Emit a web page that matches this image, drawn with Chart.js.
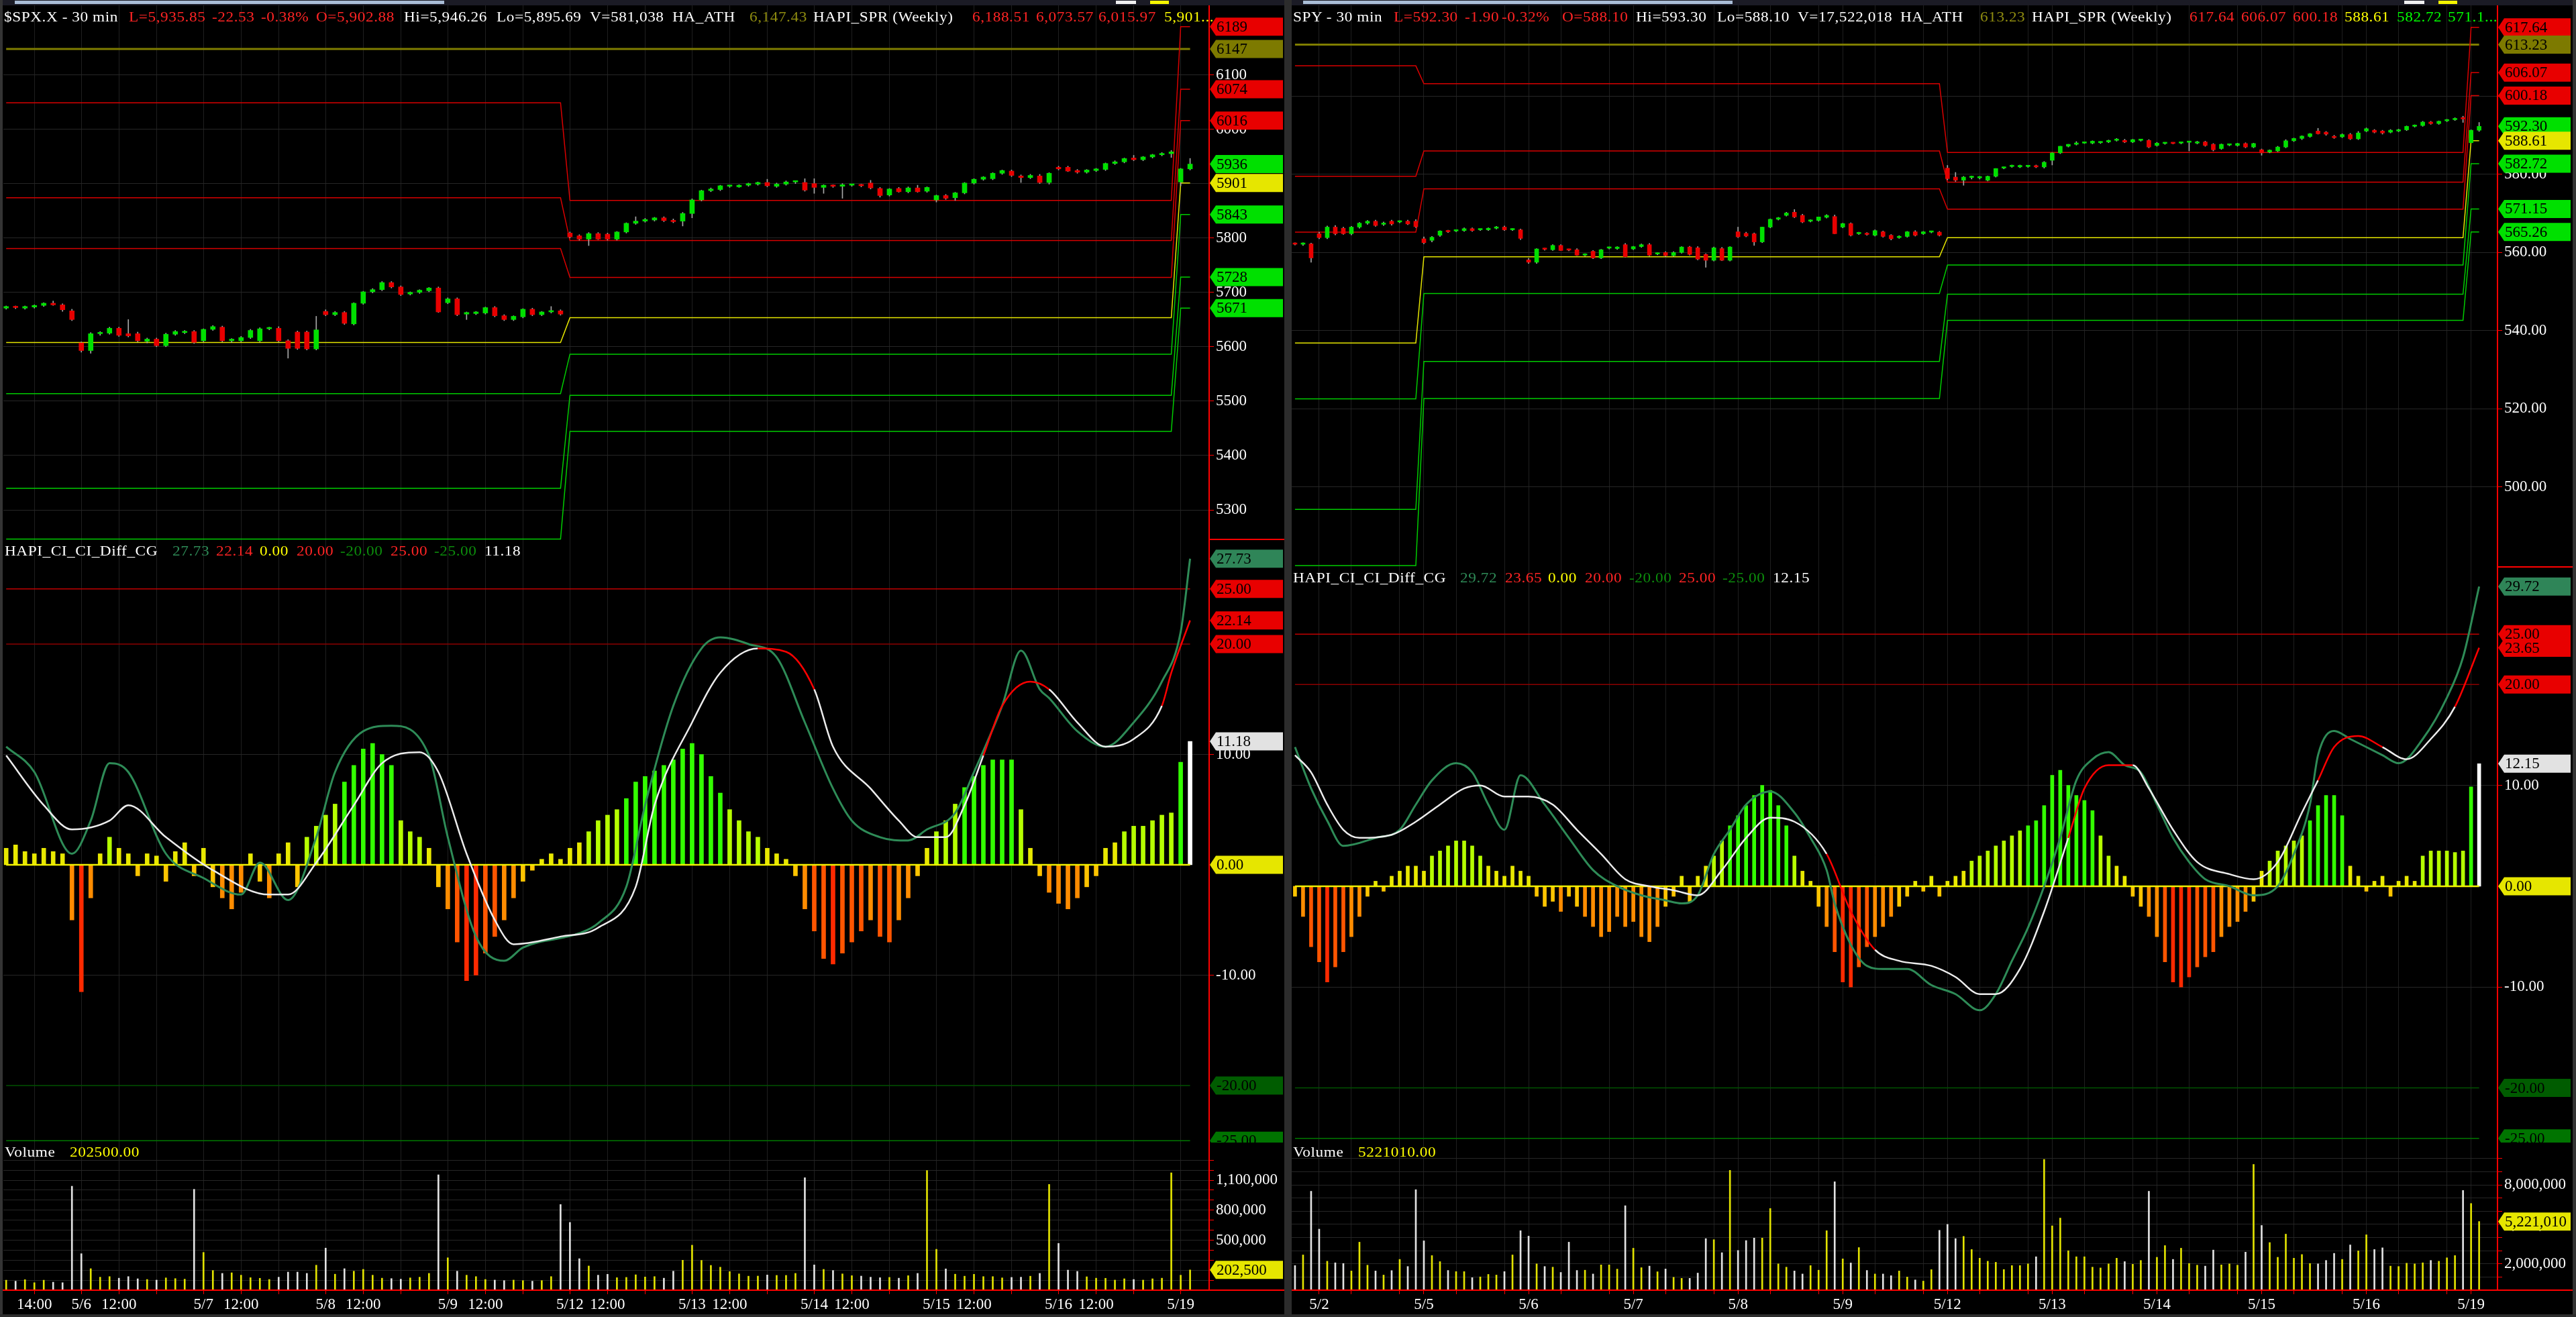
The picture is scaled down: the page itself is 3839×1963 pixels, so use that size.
<!DOCTYPE html>
<html>
<head>
<meta charset="utf-8">
<title>$SPX.X / SPY - 30 min</title>
<script src="https://cdn.jsdelivr.net/npm/chart.js@4.4.1/dist/chart.umd.min.js"></script>
<style>
  html, body { margin: 0; padding: 0; background: #000; }
  body { position: relative; width: 3839px; height: 1963px; overflow: hidden; font-family: 'Liberation Serif', 'Times New Roman', serif; }
  canvas { position: absolute; }
  .lbl { position: absolute; font-size: 22px; line-height: 22px; white-space: nowrap; letter-spacing: 0.5px; z-index: 5;
         transform: scaleX(1.06); transform-origin: 0 50%; }
  .blk { position: absolute; z-index: 4; }
</style>
</head>
<body>
<script>
// ---- $SPX.X 30 min (5/5 12:30 -> 5/19) ----
const spxOpen = [5671,5673,5671,5673,5676,5680,5677,5666,
  5607,5593,5624,5625,5634,5624,5624,5610,5614,5602,5623,5626,5628,
  5611,5632,5636,5611,5611,5617,5611,5633,5634,5611,5627,5627,5596,
  5665,5659,5663,5642,5680,5701,5705,5718,5710,5697,5700,5703,5708,
  5681,5688,5660,5661,5662,5672,5657,5650,5655,5669,5659,5664,5666,
  5809,5804,5798,5808,5807,5798,5811,5827,5831,5833,5837,5832,5831,
  5845,5870,5887,5889,5895,5894,5897,5899,5902,5895,5899,5903,5902,
  5900,5893,5896,5895,5897,5897,5901,5891,5879,5891,5885,5892,5886,
  5870,5878,5874,5883,5901,5908,5909,5919,5923,5914,5911,5914,5902,
  5930,5930,5924,5921,5924,5926,5937,5940,5947,5944,5949,5953,5955,
  5902.88,5927];
const spxHigh = [5675,5675,5675,5677,5681,5684,5679,5669,
  5609,5626,5628,5636,5636,5650,5627,5616,5616,5625,5630,5630,5630,
  5633,5639,5638,5615,5619,5632,5635,5636,5637,5613,5629,5629,5656,
  5668,5665,5665,5681,5702,5707,5720,5720,5712,5701,5705,5709,5710,
  5690,5690,5664,5665,5673,5674,5659,5657,5670,5671,5665,5674,5668,
  5811,5806,5810,5810,5809,5812,5828,5839,5836,5838,5839,5835,5847,
  5872,5888,5892,5897,5897,5898,5901,5903,5908,5901,5905,5904,5909,
  5909,5898,5898,5900,5899,5899,5906,5893,5891,5893,5894,5897,5894,
  5879,5880,5884,5902,5909,5913,5920,5925,5925,5916,5917,5917,5920,
  5932,5932,5926,5926,5928,5938,5942,5947,5952,5950,5954,5957,5961,
  5928,5946.26];
const spxLow = [5669,5670,5669,5671,5674,5676,5665,5648,
  5590,5588,5621,5623,5619,5618,5609,5607,5600,5600,5621,5624,5606,
  5609,5630,5609,5608,5609,5615,5609,5631,5609,5579,5595,5594,5594,
  5657,5657,5641,5640,5678,5699,5703,5708,5694,5695,5698,5701,5663,
  5679,5657,5650,5659,5660,5655,5648,5648,5653,5657,5657,5662,5658,
  5800,5796,5786,5797,5796,5796,5809,5825,5829,5831,5830,5828,5822,
  5837,5868,5885,5887,5893,5893,5895,5897,5894,5893,5897,5900,5886,
  5882,5882,5893,5873,5895,5894,5890,5875,5877,5884,5883,5884,5884,
  5866,5871,5869,5881,5899,5906,5907,5917,5913,5902,5909,5900,5899,
  5925,5922,5919,5919,5922,5924,5935,5938,5942,5942,5947,5951,5948,
  5895.69,5925];
const spxClose = [5674,5672,5674,5676,5680,5677,5668,5650,
  5593,5624,5626,5634,5621,5620,5611,5614,5602,5623,5628,5628,5608,
  5632,5637,5611,5614,5617,5630,5633,5634,5611,5597,5597,5596,5631,
  5659,5663,5643,5680,5701,5705,5718,5710,5696,5700,5704,5708,5664,
  5688,5659,5663,5664,5672,5657,5650,5656,5669,5659,5664,5665,5660,
  5802,5798,5808,5798,5798,5811,5827,5831,5834,5837,5832,5830,5845,
  5870,5887,5890,5896,5896,5897,5900,5902,5896,5899,5903,5903,5888,
  5893,5897,5895,5898,5897,5896,5892,5878,5890,5885,5892,5885,5893,
  5878,5873,5883,5901,5908,5912,5919,5924,5915,5911,5915,5902,5919,
  5927,5923,5921,5925,5927,5937,5940,5946,5944,5949,5953,5955,5958.38,
  5927,5935.85];
const spxVolume = [100000,90000,105000,75000,100000,80000,75000,1040000,
  365000,215000,130000,136000,120000,136000,114000,107000,101000,123000,116000,110000,1009000,
  378000,197000,168000,174000,150000,125000,119000,107000,130000,181000,181000,168000,250000,
  421000,160000,215000,190000,208000,150000,120000,116000,110000,123000,130000,168000,1154000,
  324000,190000,150000,136000,107000,101000,96000,101000,96000,90000,96000,136000,857000,
  678000,315000,242000,150000,159000,125000,128000,154000,132000,136000,120000,190000,300000,
  450000,298000,248000,230000,186000,163000,140000,141000,152000,148000,148000,168000,1125000,
  253000,208000,197000,163000,145000,141000,130000,125000,128000,120000,145000,168000,1197000,
  409000,213000,160000,140000,159000,136000,136000,123000,128000,130000,140000,168000,1058000,
  468000,201000,188000,134000,120000,119000,101000,114000,107000,101000,114000,120000,1174000,
  150000,202500];
const spxHist = [1.5,1.8,1.2,1.0,1.5,1.2,1.0,
  -5,-11.5,-3,1,2.5,1.5,1,-1,1,
  0.8,-1.5,1.2,2.0,-1.0,1.5,-2.0,
  -3.0,-4.0,-2.5,
  1.0,-1.5,-3.0,1.0,2.0,-2.0,
  2.5,3.5,4.5,5.5,
  7.5,9,10.5,11,10,9,
  4,3,2.5,1.5,
  -2,-4,-7,-10.5,-10,-8,-6.5,-5,-3,-1.5,-0.5,
  0.5,1.0,0.5,1.5,2,3,4,4.5,5,6,
  7.5,8,8.5,9,9.5,10.5,11,10,8,6.5,5,4,3,2.5,1.5,1,0.5,
  -1,-4,-6,-8.5,-9,-8,-7,-6,-5,-6.5,-7,-5,-3,-1,
  1.5,3,4,5.5,7,8,9,9.5,9.5,9.5,
  5,1.5,-1,-2.5,-3.5,-4,-3,-2,-1,
  1.5,2,3,3.5,3.5,4,4.5,4.7,9.3,11.18];
// oscillator lines read at turning points: [bar index, value]
const spxCgLine = [[0,10.7],[3,8.4],[7,1.0],[9,4],[11,9.2],[13,8.4],[17,1.0],[21,-1.2],[25,-2.7],[27,0.2],[30,-3.2],[33,2.5],[35,8.4],[38,12.1],[41,12.6],[45,9.9],[47,2.5],[50,-6.5],[53,-8.7],[55,-7.5],[61,-6.2],[63,-5.3],[66,-2.0],[68,5.4],[71,14.4],[74,19.6],[76,20.6],[79,20.0],[82,18.8],[85,12.9],[88,6.9],[90,4.0],[93,2.5],[96,2.2],[98,3.2],[101,4.7],[103,8.4],[106,14.4],[108,19.4],[110,15.9],[111,15.1],[114,12.1],[117,10.7],[120,12.9],[123,16.6],[125,21.1],[126,27.73]];
const spxCiLine = [[0,9.9],[4,5.4],[7,3.2],[11,4.0],[13,5.4],[17,2.5],[22,-0.5],[28,-2.7],[30,-2.7],[33,0.2],[37,5.4],[40,9.2],[44,10.2],[46,8.4],[49,1.0],[52,-5.0],[54,-7.2],[59,-6.5],[63,-5.7],[67,-2.0],[69,5.4],[73,12.9],[76,17.4],[80,19.6],[83,19.3],[86,15.9],[88,10.7],[92,6.9],[95,4.0],[97,2.5],[100,2.5],[102,5.4],[104,9.9],[106,14.4],[109,16.6],[111,15.9],[114,12.9],[117,10.7],[120,11.4],[123,14.4],[124,17.4],[126,22.14]];
const spxCiRed = [[79,86],[105,111],[122,126]];
const spxWeekStart = [0, 60, 125];
const spxWeekLevels = [
  [6048.4, 5873.9, 5780.5, 5607.8, 5513.8, 5339.9, 5246.5],
  [5869.0, 5795.2, 5727.6, 5653.3, 5586.3, 5510.8, 5444.4],
  [6188.51, 6073.57, 6015.97, 5901.0, 5843.0, 5728.0, 5671.0]];
const spxAth = 6147.43;
const spxPriceTicks = [5300, 5400, 5500, 5600, 5700, 5800, 5900, 6000, 6100];
const spxVolTicks = [100000,200000,300000,400000,500000,600000,700000,800000,900000,1000000,1100000,1200000,1300000];
const spxVolLabels = [200000, 500000, 800000, 1100000];
const spxTickIdx = [3,8,12,16,21,25,29,34,38,42,47,51,55,60,64,68,73,77,81,86,90,94,99,103,107,112,116,120,125];
const spxTickLabels = ['14:00','5/6','12:00','','5/7','12:00','','5/8','12:00','','5/9','12:00','','5/12','12:00','','5/13','12:00','','5/14','12:00','','5/15','12:00','','5/16','12:00','','5/19'];

// ---- SPY 30 min (5/1 15:00 -> 5/19) ----
const spyOpen = [562.2,562.1,562.2,
  564.8,563.8,566.5,566.2,564.8,566.5,567.5,568.0,567.2,568.0,567.8,568.0,568.0,
  563.5,563.1,564.4,565.4,565.5,565.6,566.1,565.8,565.8,566.2,566.5,565.8,565.8,
  558.1,557.5,560.9,560.7,561.8,560.7,560.7,559.3,560.3,558.6,561.1,561.0,562.0,
  560.9,561.5,562.0,559.6,560.0,559.2,560.0,561.4,561.2,559.5,558.0,561.0,558.0,
  565.3,564.9,564.8,562.7,566.5,568.5,569.5,570.3,569.5,568.0,568.2,569.0,569.2,
  566.5,567.4,564.8,564.7,564.4,565.3,564.4,563.8,564.1,565.3,564.8,565.2,565.2,
  581.6,579.3,578.5,579.2,579.1,578.5,579.5,581.6,582.0,581.9,582.0,582.2,581.9,
  583.6,585.5,587.2,587.7,588.0,588.0,588.1,588.3,588.7,588.7,588.3,588.7,588.7,
  587.4,587.9,588.0,588.0,588.2,588.0,588.3,587.7,586.6,587.5,587.4,587.9,587.0,
  586.3,585.7,586.0,587.0,588.6,589.2,589.7,591.1,590.8,589.7,589.6,590.2,589.1,
  591.1,591.3,591.1,590.8,591.1,591.4,592.3,592.5,593.4,593.0,593.7,594.0,594.3,
  588.1,591.3];
const spyHigh = [562.5,562.5,562.4,
  565.2,566.8,566.9,566.5,566.7,567.7,568.2,568.3,567.8,568.3,568.1,568.3,568.4,
  564.0,564.1,565.6,565.7,565.8,566.3,566.3,566.0,566.3,566.7,566.8,566.1,566.0,
  558.5,561.0,561.1,562.0,562.0,560.9,561.0,559.7,560.5,560.8,561.4,561.5,562.3,
  561.6,562.2,562.3,559.9,560.2,560.2,561.5,561.6,561.5,559.7,561.4,561.3,561.5,
  566.5,565.2,565.0,566.5,568.6,569.0,570.3,571.0,569.8,568.4,569.1,569.7,569.6,
  567.5,567.6,565.2,565.1,565.8,565.5,564.6,564.3,565.4,565.6,565.4,565.5,565.4,
  582.3,580.5,579.5,579.6,579.5,579.6,581.5,581.9,582.4,582.4,582.3,582.4,583.3,
  585.6,587.2,587.7,588.4,588.3,588.6,588.4,588.8,589.2,589.0,589.0,588.9,588.9,
  588.2,588.2,588.2,588.3,588.4,588.5,588.5,587.9,587.8,587.8,588.0,588.1,588.0,
  586.5,586.3,587.2,588.9,589.3,589.9,590.5,591.8,591.0,590.0,590.4,590.5,591.0,
  591.9,591.5,591.3,591.5,591.6,592.4,592.7,593.6,593.6,593.7,594.1,594.5,594.9,
  591.4,593.3];
const spyLow = [561.9,561.8,557.5,
  563.5,563.5,564.5,564.6,564.5,566.2,567.2,566.7,566.9,567.0,567.6,567.1,566.4,
  562.2,562.7,564.1,565.1,565.3,565.4,565.4,565.6,565.6,566.0,565.6,565.6,563.3,
  557.2,557.2,560.6,560.5,560.5,560.4,559.2,559.1,558.4,558.4,560.9,560.8,558.8,
  560.7,561.3,559.1,559.4,558.9,559.0,559.8,559.3,558.1,556.2,557.8,557.9,557.8,
  563.8,564.0,561.8,562.5,566.3,568.3,569.3,568.9,567.6,567.8,568.0,568.8,564.8,
  566.3,564.2,564.6,564.4,564.2,563.9,563.2,563.6,563.9,564.2,564.6,565.0,564.2,
  578.6,578.2,577.2,578.8,578.8,578.3,579.3,581.4,581.8,581.7,581.8,581.7,581.6,
  582.4,585.3,587.0,587.5,587.9,587.8,587.9,588.1,588.5,588.1,588.1,588.5,586.8,
  587.2,587.7,587.8,587.8,586.0,587.8,587.2,586.0,586.4,587.3,587.2,586.8,586.8,
  584.9,585.5,585.8,586.8,588.4,588.9,589.5,590.3,590.0,589.2,589.4,588.9,588.9,
  590.9,590.6,590.3,590.6,590.9,591.2,592.1,592.3,592.8,592.8,593.5,593.8,593.3,
  588.1,591.0];
const spyClose = [562.1,562.3,558.6,
  563.8,566.5,564.8,564.8,566.5,567.5,568.0,566.9,567.5,567.3,567.9,567.3,566.6,
  562.5,563.9,565.5,565.3,565.6,566.1,565.6,565.9,566.2,566.5,565.8,565.9,563.6,
  557.5,560.9,560.8,561.8,560.5,560.6,559.3,559.5,558.6,560.7,561.2,561.4,558.9,
  561.5,562.0,559.3,559.7,559.2,560.0,561.4,559.5,558.3,558.0,561.2,558.0,561.4,
  564.0,564.2,562.7,566.5,568.5,568.9,570.1,569.1,567.8,568.2,569.1,569.5,564.8,
  567.4,564.4,564.9,564.6,565.6,564.1,563.5,564.1,565.3,564.4,565.3,565.2,564.4,
  578.9,578.5,579.3,579.3,579.2,579.5,581.5,581.7,582.1,582.3,582.1,581.9,583.1,
  585.5,587.2,587.7,588.0,588.1,588.5,588.2,588.7,588.8,588.3,588.9,588.7,587.0,
  588.0,588.0,587.9,588.2,588.3,588.3,587.4,586.3,587.7,587.6,587.9,587.0,587.9,
  585.5,586.2,587.0,588.6,589.2,589.8,590.4,590.4,590.3,589.4,590.2,589.1,590.6,
  591.7,590.8,590.6,591.3,591.4,592.3,592.5,593.4,593.0,593.6,594.0,594.3,594.2,
  591.3,592.3];
const spyVolumeM = [1.87,2.68,7.52,
  4.64,2.2,2.08,2.03,1.46,3.65,1.9,1.46,1.15,1.49,2.34,1.8,7.64,
  3.75,2.63,2.17,1.5,1.41,1.41,0.95,1.01,1.2,1.15,1.41,2.68,4.52,
  4.11,2.0,1.8,1.75,1.35,3.65,1.5,1.52,1.23,1.92,1.92,1.6,6.42,
  3.19,1.71,1.83,1.4,1.61,0.98,0.9,0.9,1.3,3.92,3.84,2.85,9.11,
  3.02,3.77,3.96,3.96,6.21,2.0,1.75,1.46,1.23,1.87,1.52,4.52,8.24,
  2.38,2.07,3.24,1.5,1.23,1.23,1.1,1.46,1.0,0.78,0.69,1.56,4.55,
  5.0,3.92,4.09,3.09,2.43,2.2,2.12,1.57,1.87,1.87,2.0,2.54,9.94,
  4.89,5.48,3.0,2.54,2.54,1.75,1.69,2.0,2.43,2.17,1.97,2.26,7.52,
  2.5,3.39,2.34,3.19,2.03,1.9,1.83,3.05,1.92,2.0,1.9,2.89,9.56,
  4.92,3.62,2.5,4.26,2.43,2.71,2.03,2.0,2.26,2.8,2.34,3.44,2.99,
  4.21,3.09,3.22,1.83,1.8,2.05,2.0,2.08,2.26,2.2,2.46,2.63,7.58,
  6.59,5.22101];
const spyHist = [-1,-3,-6,-7.5,-9.5,-8,-6.5,-5,-3,
  -1,0.5,-0.5,1, 1.5,2,2,1.5, 3,3.5,4,4.5,4.5,4,3, 2,1.5,1,2,1.5,1,
  -1,-2,-1.5,-2.5,-1,-2, -3,-4,-5,-4.5,-3, -4,-3.5,-5,-5.5,-4,-2,
  -1,1,-1.5,1,2, 3,4.5,6,7, 8,9,10,9.5,8,6, 3,1.5,0.5,
  -2,-4,-6.5,-9.5,-10,-8, -6,-5,-4,-3,-2, -1,0.5,-0.5,1,-1,0.5,1,1.5,
  2.5,3,3.5,4,4.5,5,5.5,6, 6.5,8,11,11.5,10,9, 8.5,7.5,5,3, 2,1,-1,-2,
  -3,-5,-7.5,-9.5,-10,-9,-8,-7,-6.5,-5,-4, -3.5,-2.5,-1.5,
  1.5,2.5,3.5,4,4.5, 5,6.5,8,9,9,7, 2,1,-0.5,0.5,1,-1,0.5,1,0.5,
  3,3.5,3.5,3.5, 3.35,3.5,9.85,12.15];
const spyCgLine = [[0,13.8],[2,9.7],[4,6.5],[6,4.0],[10,4.8],[13,5.6],[15,8.1],[17,10.5],[20,12.2],[22,11.3],[24,8.1],[26,5.6],[28,11.0],[31,8.1],[34,4.8],[37,1.6],[40,0],[43,-0.9],[46,-1.4],[48,-1.7],[50,-0.9],[52,3.2],[54,5.6],[56,8.1],[59,9.4],[62,7.3],[64,4.8],[66,1.6],[67,-1.7],[69,-5.8],[71,-7.9],[73,-8.2],[76,-8.2],[79,-9.8],[82,-10.7],[85,-12.3],[87,-10.7],[89,-7.4],[91,-4.1],[93,0],[95,4.8],[97,10.5],[99,12.6],[101,13.3],[103,12],[105,11.3],[107,8.1],[109,4.8],[111,2.4],[113,0.7],[116,0],[119,-0.9],[122,0],[124,3.2],[126,8.1],[127,13],[129,15.4],[131,14.6],[133,13.8],[135,13],[137,12.2],[140,14.6],[143,18.7],[145,22.7],[147,29.72]];
const spyCiLine = [[0,13],[2,11.3],[4,8.1],[6,5.6],[8,4.8],[12,5.1],[15,6.4],[18,8.1],[21,9.7],[23,10],[26,8.9],[29,8.9],[32,8.1],[35,5.6],[38,3.2],[41,0.7],[44,0],[47,-0.4],[50,-0.9],[53,1.6],[56,4.8],[59,6.8],[62,6.4],[66,3.2],[69,-2.5],[72,-6.3],[75,-7.4],[79,-7.9],[82,-9],[85,-10.7],[87,-10.7],[90,-8.2],[93,-2.5],[96,4.8],[98,9.7],[101,12],[104,12],[106,9.7],[109,5.6],[112,2.4],[116,1.2],[119,0.7],[122,2.4],[125,7.3],[127,10.5],[129,13.8],[132,14.9],[135,13.8],[138,12.6],[141,14.6],[144,17.8],[147,23.65]];
const spyCiRed = [[65,72],[97,104],[128,134],[143,147]];
const spyWeekStart = [0, 16, 81, 146];
const spyWeekLevels = [
  [607.8, 579.5, 565.2, 536.8, 522.5, 494.2, 479.8],
  [603.2, 586.0, 576.3, 558.9, 549.5, 532.1, 522.6],
  [585.6, 578.0, 571.1, 563.8, 556.8, 549.3, 542.6],
  [617.64, 606.07, 600.18, 588.61, 582.72, 571.15, 565.26]];
const spyAth = 613.23;
const spyPriceTicks = [500, 520, 540, 560, 580, 600];
const spyVolTicks = [1, 2, 3, 4, 5, 6, 7, 8, 9, 10];
const spyVolLabels = [2, 5, 8];
const spyTickIdx = [3,7,13,16,20,26,29,33,39,42,46,52,55,59,65,68,72,78,81,85,91,94,98,104,107,111,117,120,124,130,133,137,143,146];
const spyTickLabels = ['5/2','','','5/5','','','5/6','','','5/7','','','5/8','','','5/9','','','5/12','','','5/13','','','5/14','','','5/15','','','5/16','','','5/19'];

const oscTicks = [-10, 10];

// ---- drawing ----
const FONT = "'Liberation Serif', 'Times New Roman', serif";
const RED = '#e80000', GREEN = '#00e000', YEL = '#e6e600', OLIVE = '#7d7a00';
const SEA = '#2e8b57', TXT_RED = '#ff2424', TXT_OLIVE = '#8f8c10', TXT_DG = '#0c8c0c';
const LEVEL_COLORS = ['#d80000', '#d80000', '#d80000', '#e6e600', '#00cc00', '#00cc00', '#00cc00'];

function el(css, text, cls) {
  const d = document.createElement('div');
  d.className = cls || 'blk';
  Object.assign(d.style, css);
  if (text !== undefined) d.textContent = text;
  document.body.appendChild(d);
  return d;
}

function headerRow(items, cy) {
  items.forEach(([t, c, x]) => el({ left: x + 'px', top: (cy - 11) + 'px', color: c }, t, 'lbl'));
}

function makeCanvas(x, y, w, h) {
  const c = document.createElement('canvas');
  c.width = w; c.height = h;
  c.style.left = x + 'px'; c.style.top = y + 'px';
  c.style.width = w + 'px'; c.style.height = h + 'px';
  document.body.appendChild(c);
  return c;
}

function drawFlag(ctx, axisX, right, y, text, bg) {
  const h = 27, tip = 9;
  ctx.save();
  ctx.fillStyle = bg;
  ctx.beginPath();
  ctx.moveTo(axisX + 1, y);
  ctx.lineTo(axisX + 1 + tip, y - h / 2);
  ctx.lineTo(right, y - h / 2);
  ctx.lineTo(right, y + h / 2);
  ctx.lineTo(axisX + 1 + tip, y + h / 2);
  ctx.closePath();
  ctx.fill();
  ctx.fillStyle = '#000';
  ctx.font = '23px ' + FONT;
  ctx.textAlign = 'left';
  ctx.textBaseline = 'middle';
  ctx.fillText(text, axisX + 11, y + 1);
  ctx.restore();
}

function weekOf(starts, i) {
  let w = 0;
  starts.forEach((s, k) => { if (i >= s) w = k; });
  return w;
}

function histColor(v) {
  if (v >= 6) return '#33ff00';
  if (v >= 2.5) return '#b6ff00';
  if (v >= 0) return '#e8e800';
  if (v > -2.5) return '#ffc400';
  if (v > -6) return '#ff8c00';
  if (v > -9) return '#ff5500';
  return '#ff2a00';
}

function hLine(n, y, color, width) {
  return { type: 'line', data: [{ x: 0, y: y }, { x: n - 1, y: y }], borderColor: color, borderWidth: width, pointRadius: 0, fill: false };
}

function pane(p) {
  const canvas = makeCanvas(p.x, p.top, p.w, p.h);
  const gutter = p.w - p.axisX;
  return new Chart(canvas, {
    type: 'bar',
    data: { datasets: p.datasets },
    options: {
      responsive: false, animation: false, devicePixelRatio: 1, events: [],
      layout: { autoPadding: false, padding: { left: 5, right: 0, top: 0, bottom: 0 } },
      plugins: { legend: { display: false }, tooltip: { enabled: false } },
      scales: {
        x: {
          type: 'linear', min: p.xMin, max: p.xMax, offset: false,
          afterBuildTicks: s => { s.ticks = p.xTicks.map(v => ({ value: v })); },
          // keep the plot edges fixed: no room reserved for label overflow
          afterFit: s => { s.height = p.showX ? 40 : 0; s.paddingLeft = 0; s.paddingRight = 0; },
          ticks: {
            display: !!p.showX, autoSkip: false, maxRotation: 0, color: '#ffffff', padding: 2,
            font: { family: FONT, size: 23 },
            callback: v => { const k = p.xTicks.indexOf(v); return k >= 0 ? p.xLabels[k] : ''; }
          },
          grid: { color: '#1f1f1f', lineWidth: 1, offset: false, drawTicks: !!p.showX, tickLength: 6, tickColor: '#ff0000' },
          border: { display: false }
        },
        y: {
          type: 'linear', position: 'right', min: p.yMin, max: p.yMax,
          afterBuildTicks: s => { s.ticks = p.yTicks.map(v => ({ value: v })); },
          afterFit: s => { s.width = gutter; s.paddingTop = 0; s.paddingBottom = 0; },
          ticks: { color: '#ffffff', padding: 3, autoSkip: false, font: { family: FONT, size: 23 }, callback: v => p.yLabel(v) },
          grid: { color: '#262626', lineWidth: 1, drawTicks: true, tickLength: 7, tickColor: '#ff0000' },
          border: { display: true, color: '#ff0000', width: 2 }
        }
      }
    },
    plugins: [{
      id: 'paneDecor',
      afterDraw(chart) {
        const ctx = chart.ctx, ys = chart.scales.y, area = chart.chartArea;
        ctx.save();
        ctx.fillStyle = '#ff0000';
        if (p.sepBottom) ctx.fillRect(p.axisX, chart.height - 2, gutter, 2);
        if (p.showX) ctx.fillRect(0, area.bottom - 1, chart.width, 2);
        ctx.restore();
        p.flags.forEach(f => drawFlag(ctx, p.axisX, p.w - 8, ys.getPixelForValue(f.v), p.flagText(f.v), f.c));
      }
    }]
  });
}

function buildPanel(cfg) {
  const n = cfg.close.length;
  const up = cfg.close.map((c, i) => c >= cfg.open[i]);
  const xs = { xMin: cfg.xMin, xMax: cfg.xMax, xTicks: cfg.tickIdx, xLabels: cfg.tickLabels };
  const lastLv = cfg.weekLevels[cfg.weekLevels.length - 1];

  // price pane
  const priceSets = [
    { type: 'bar', data: cfg.open.map((o, i) => ({ x: i, y: [o, cfg.close[i]] })), backgroundColor: up.map(u => u ? GREEN : RED),
      barThickness: cfg.bodyW, grouped: false, minBarLength: 2, borderWidth: 0 },
    { type: 'bar', data: cfg.low.map((l, i) => ({ x: i, y: [l, cfg.high[i]] })), backgroundColor: '#a8a8a8',
      barThickness: 1, grouped: false, borderWidth: 0 }
  ];
  LEVEL_COLORS.forEach((col, k) => {
    priceSets.push({ type: 'line', borderColor: col, borderWidth: 1.5, pointRadius: 0, fill: false,
      data: cfg.open.map((_, i) => ({ x: i, y: cfg.weekLevels[weekOf(cfg.weekStart, i)][k] })) });
  });
  priceSets.push(hLine(n, cfg.ath, '#7f7d00', 3));
  pane(Object.assign({}, xs, {
    x: cfg.x, top: 8, w: cfg.w, h: cfg.priceBottom - 8, axisX: cfg.axisX,
    yMin: cfg.priceMin, yMax: cfg.priceMax, yTicks: cfg.priceTicks, yLabel: cfg.priceLabel,
    datasets: priceSets, sepBottom: true, flagText: cfg.priceLabel,
    flags: [{ v: lastLv[0], c: RED }, { v: cfg.ath, c: OLIVE }, { v: lastLv[1], c: RED }, { v: lastLv[2], c: RED },
            { v: cfg.close[n - 1], c: GREEN }, { v: lastLv[3], c: YEL }, { v: lastLv[4], c: GREEN },
            { v: lastLv[5], c: GREEN }, { v: lastLv[6], c: GREEN }]
  }));

  // oscillator pane
  const inRed = x => cfg.ciRed.some(([a, b]) => x >= a && x <= b);
  const lastCg = cfg.cg[cfg.cg.length - 1][1], lastCi = cfg.ci[cfg.ci.length - 1][1], lastH = cfg.hist[n - 1];
  const oscSets = [
    { type: 'line', data: cfg.ci.map(([x, y]) => ({ x, y })), borderColor: '#ececec', borderWidth: 2.5, pointRadius: 0,
      fill: false, cubicInterpolationMode: 'monotone',
      segment: { borderColor: c => inRed((c.p0.parsed.x + c.p1.parsed.x) / 2) ? '#ff0000' : undefined } },
    { type: 'line', data: cfg.cg.map(([x, y]) => ({ x, y })), borderColor: SEA, borderWidth: 3, pointRadius: 0,
      fill: false, cubicInterpolationMode: 'monotone' },
    hLine(n, 0, '#f0f000', 2.5),
    { type: 'bar', data: cfg.hist.map((v, i) => ({ x: i, y: v })), grouped: false, borderWidth: 0,
      backgroundColor: cfg.hist.map((v, i) => i === n - 1 ? '#ffffff' : histColor(v)), barThickness: cfg.histW },
    hLine(n, 25, '#c00000', 1.5), hLine(n, 20, '#8c0000', 1.5),
    hLine(n, -20, '#005200', 1.5), hLine(n, -25, '#007800', 1.5)
  ];
  pane(Object.assign({}, xs, {
    x: cfg.x, top: cfg.priceBottom, w: cfg.w, h: 1703 - cfg.priceBottom, axisX: cfg.axisX,
    yMin: cfg.oscMin, yMax: cfg.oscMax, yTicks: oscTicks, yLabel: v => v.toFixed(2),
    datasets: oscSets, flagText: v => v.toFixed(2),
    flags: [{ v: lastCg, c: '#2f8558' }, { v: 25, c: RED }, { v: lastCi, c: RED }, { v: 20, c: RED },
            { v: lastH, c: '#e2e2e2' }, { v: 0, c: YEL }, { v: -20, c: '#005c00' }, { v: -25, c: '#007400' }]
  }));

  // volume pane
  pane(Object.assign({}, xs, {
    x: cfg.x, top: 1703, w: cfg.w, h: 260, axisX: cfg.axisX, showX: true,
    yMin: 0, yMax: cfg.volMax, yTicks: cfg.volTicks,
    yLabel: v => cfg.volLabels.includes(v) ? cfg.volFmt(v) : '',
    datasets: [{ type: 'bar', data: cfg.volume.map((v, i) => ({ x: i, y: v })), grouped: false, borderWidth: 0,
      backgroundColor: up.map(u => u ? '#e2e200' : '#e2e2e2'), barThickness: 2 }],
    flagText: cfg.volFmt, flags: [{ v: cfg.volume[n - 1], c: YEL }]
  }));
}

buildPanel({
  x: 0, w: 1920, axisX: 1802, xMin: -0.30, xMax: 128.03,
  open: spxOpen, high: spxHigh, low: spxLow, close: spxClose, bodyW: 7, histW: 6,
  weekStart: spxWeekStart, weekLevels: spxWeekLevels, ath: spxAth,
  priceBottom: 805, priceMin: 5244.5, priceMax: 6227.7, priceTicks: spxPriceTicks, priceLabel: v => String(Math.round(v)),
  hist: spxHist, cg: spxCgLine, ci: spxCiLine, ciRed: spxCiRed, oscMin: -25.17, oscMax: 29.42,
  volume: spxVolume, volMax: 1476500, volTicks: spxVolTicks, volLabels: spxVolLabels, volFmt: v => Math.round(v).toLocaleString('en-US'),
  tickIdx: spxTickIdx, tickLabels: spxTickLabels
});

buildPanel({
  x: 1920, w: 1919, axisX: 1802, xMin: -0.41, xMax: 149.28,
  open: spyOpen, high: spyHigh, low: spyLow, close: spyClose, bodyW: 6, histW: 5,
  weekStart: spyWeekStart, weekLevels: spyWeekLevels, ath: spyAth,
  priceBottom: 846, priceMin: 479.3, priceMax: 623.28, priceTicks: spyPriceTicks, priceLabel: v => v.toFixed(2),
  hist: spyHist, cg: spyCgLine, ci: spyCiLine, ciRed: spyCiRed, oscMin: -25.42, oscMax: 31.6,
  volume: spyVolumeM, volMax: 11.22, volTicks: spyVolTicks, volLabels: spyVolLabels, volFmt: v => Math.round(v * 1e6).toLocaleString('en-US'),
  tickIdx: spyTickIdx, tickLabels: spyTickLabels
});

// frame: top strip, borders, panel divider
el({ left: '0px', top: '0px', width: '3839px', height: '8px', background: '#1b1b25' });
[0, 1920].forEach(ox => {
  el({ left: (ox + 22) + 'px', top: '1px', width: '640px', height: '5px', background: '#a9bdd6' });
  el({ left: (ox + 1663) + 'px', top: '1px', width: '30px', height: '5px', background: '#f0f0f0' });
  el({ left: (ox + 1714) + 'px', top: '1px', width: '28px', height: '5px', background: '#f5f500' });
});
el({ left: '0px', top: '0px', width: '4px', height: '1963px', background: '#343434' });
el({ left: '1914px', top: '0px', width: '11px', height: '1963px', background: '#2c2c2c' });
el({ left: '3834px', top: '0px', width: '5px', height: '1963px', background: '#343434' });
el({ left: '0px', top: '1959px', width: '3839px', height: '4px', background: '#2c2c2c' });

// pane titles
headerRow([['$SPX.X - 30 min', '#fff', 6], ['L=5,935.85', TXT_RED, 192], ['-22.53', TXT_RED, 316], ['-0.38%', TXT_RED, 389],
  ['O=5,902.88', TXT_RED, 471], ['Hi=5,946.26', '#fff', 602], ['Lo=5,895.69', '#fff', 740], ['V=581,038', '#fff', 879],
  ['HA_ATH', '#fff', 1002], ['6,147.43', TXT_OLIVE, 1117], ['HAPI_SPR (Weekly)', '#fff', 1212],
  ['6,188.51', TXT_RED, 1449], ['6,073.57', TXT_RED, 1544], ['6,015.97', TXT_RED, 1637], ['5,901...', '#ffff00', 1735]], 25);
headerRow([['SPY - 30 min', '#fff', 1927], ['L=592.30', TXT_RED, 2077], ['-1.90', TXT_RED, 2183], ['-0.32%', TXT_RED, 2238],
  ['O=588.10', TXT_RED, 2328], ['Hi=593.30', '#fff', 2438], ['Lo=588.10', '#fff', 2559], ['V=17,522,018', '#fff', 2679],
  ['HA_ATH', '#fff', 2832], ['613.23', TXT_OLIVE, 2951], ['HAPI_SPR (Weekly)', '#fff', 3028],
  ['617.64', TXT_RED, 3263], ['606.07', TXT_RED, 3340], ['600.18', TXT_RED, 3417], ['588.61', '#ffff00', 3494],
  ['582.72', '#00ff00', 3572], ['571.1...', '#00ff00', 3648]], 25);
headerRow([['HAPI_CI_CI_Diff_CG', '#fff', 7], ['27.73', SEA, 257], ['22.14', TXT_RED, 322], ['0.00', '#ffff00', 387],
  ['20.00', TXT_RED, 442], ['-20.00', TXT_DG, 507], ['25.00', TXT_RED, 582], ['-25.00', TXT_DG, 647], ['11.18', '#fff', 722]], 821);
headerRow([['HAPI_CI_CI_Diff_CG', '#fff', 1927], ['29.72', SEA, 2176], ['23.65', TXT_RED, 2243], ['0.00', '#ffff00', 2307],
  ['20.00', TXT_RED, 2362], ['-20.00', TXT_DG, 2428], ['25.00', TXT_RED, 2502], ['-25.00', TXT_DG, 2567], ['12.15', '#fff', 2642]], 861);
headerRow([['Volume', '#fff', 7], ['202500.00', '#ffff00', 104]], 1717);
headerRow([['Volume', '#fff', 1927], ['5221010.00', '#ffff00', 2024]], 1717);
</script>
</body>
</html>
